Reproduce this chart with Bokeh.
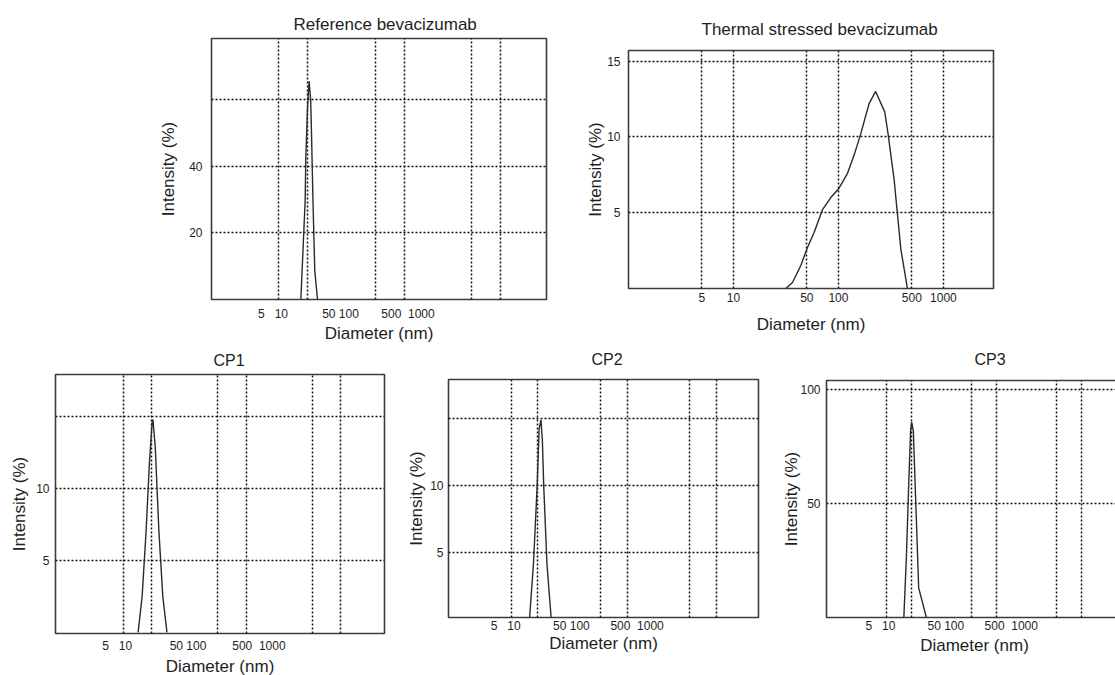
import math
from bokeh.plotting import figure
from bokeh.models import Range1d, LogAxis, LogScale, FixedTicker, PrintfTickFormatter
from bokeh.layouts import row, column
from bokeh.embed import file_html
from bokeh.resources import INLINE

# ---------------- data ----------------
tick_values = [5, 10, 50, 100, 500, 1000]          # diameter tick labels (nm)
tick_pairs = [(5, 10), (50, 100), (500, 1000)]     # label groups printed under the small panels
pair_gaps = [3, 1, 2]                              # spaces between the two numbers of a group
grid_diam = [5, 10, 50, 100, 500, 1000]            # vertical grid lines (nm)

ref_diam = [8.46, 9.38, 9.53, 9.93, 10.3, 10.7, 10.9, 11.3, 11.8, 12.6]
ref_int = [0, 29.7, 43.0, 57.7, 65.5, 59.7, 50.7, 29.7, 8.7, 0]

th_diam = [31.5, 36.5, 43.7, 50.7, 58.6, 70.5, 84.6, 101, 122, 141, 163, 196, 226, 276, 297, 339, 393, 454]
th_int = [0, 0.4, 1.5, 2.7, 3.7, 5.2, 6.0, 6.6, 7.6, 8.8, 10.2, 12.2, 13.0, 11.65, 10.2, 7.2, 2.6, 0]

cp1_diam = [7.18, 7.92, 8.73, 9.46, 10.1, 10.3, 10.9, 11.9, 13.1, 14.5]
cp1_int = [0, 2.5, 7.1, 11.8, 14.6, 14.8, 12.9, 7.1, 2.5, 0]

cp2_diam = [8.03, 8.91, 9.8, 10.3, 10.8, 11.2, 11.6, 12.6, 14.1]
cp2_int = [0, 4.2, 10.0, 14.2, 14.9, 13.4, 10.0, 4.2, 0]

cp3_diam = [8.1, 8.67, 9.3, 9.73, 10.0, 10.47, 12.1, 14.9]
cp3_int = [0, 26, 61.5, 82, 85.7, 82, 13, 0]

ref_yticks, ref_ygrid = [20, 40], [20, 40, 60]
th_yticks, th_ygrid = [5, 10, 15], [5, 10, 15]
cp1_yticks, cp1_ygrid = [5, 10], [5, 10, 15]
cp2_yticks, cp2_ygrid = [5, 10], [5, 10, 15]
cp3_yticks, cp3_ygrid = [50, 100], [50, 100]

FONT = "Liberation Sans"
TXT = "#1e1e1e"
NBSP = "\u00a0"

group_pos = [math.sqrt(a * b) for a, b in tick_pairs]
group_text = {pos: f"{a}{NBSP * g}{b}" for pos, (a, b), g in zip(group_pos, tick_pairs, pair_gaps)}


def panel(title, diam, inten, xr, lab_xr, yr, yticks, ygrid, w, h, borders, margin,
          title_off, title_standoff, title_size, xl_stand, xa_stand, yl_stand, ya_stand,
          grouped=True):
    bl, br, bt, bb = borders
    p = figure(width=w, height=h, x_axis_type="log", x_axis_location=None,
               x_range=Range1d(*xr), y_range=Range1d(*yr),
               output_backend="svg", toolbar_location=None, margin=margin,
               min_border_left=bl, min_border_right=br, min_border_top=bt, min_border_bottom=bb)
    p.frame_align = False
    p.title.text = title
    p.title.align = "left"
    p.title.offset = title_off
    p.title.standoff = title_standoff
    p.title.text_font = FONT
    p.title.text_font_size = title_size
    p.title.text_font_style = "normal"
    p.title.text_color = TXT

    p.outline_line_color = "#3c3c3c"
    p.outline_line_width = 1.6
    p.background_fill_color = None
    p.border_fill_color = None

    # grids
    p.xgrid.ticker = FixedTicker(ticks=grid_diam)
    p.ygrid.ticker = FixedTicker(ticks=ygrid)
    for g in (p.xgrid, p.ygrid):
        g.grid_line_color = "#111111"
        g.grid_line_width = 1.5
        g.grid_line_dash = "2 2"

    # y axis
    ya = p.yaxis[0]
    ya.ticker = FixedTicker(ticks=yticks)
    ya.axis_label = "Intensity (%)"
    ya.axis_line_color = None
    ya.major_tick_line_color = None
    ya.minor_tick_line_color = None
    ya.major_tick_out = 0
    ya.major_label_standoff = yl_stand
    ya.axis_label_standoff = ya_stand
    ya.major_label_text_font = FONT
    ya.major_label_text_font_size = "12px"
    ya.major_label_text_color = TXT
    ya.axis_label_text_font = FONT
    ya.axis_label_text_font_size = "17px"
    ya.axis_label_text_font_style = "normal"
    ya.axis_label_text_color = TXT

    # x axis with its own label positions
    p.extra_x_ranges = {"lab": Range1d(*lab_xr)}
    p.extra_x_scales = {"lab": LogScale()}
    if grouped:
        xa = LogAxis(x_range_name="lab", ticker=FixedTicker(ticks=group_pos),
                     major_label_overrides=group_text, axis_label="Diameter (nm)")
    else:
        xa = LogAxis(x_range_name="lab", ticker=FixedTicker(ticks=tick_values),
                     formatter=PrintfTickFormatter(format="%d"), axis_label="Diameter (nm)")
    xa.axis_line_color = None
    xa.major_tick_line_color = None
    xa.minor_tick_line_color = None
    xa.major_tick_out = 0
    xa.major_label_standoff = xl_stand
    xa.axis_label_standoff = xa_stand
    xa.major_label_text_font = FONT
    xa.major_label_text_font_size = "12px"
    xa.major_label_text_color = TXT
    xa.axis_label_text_font = FONT
    xa.axis_label_text_font_size = "17px"
    xa.axis_label_text_font_style = "normal"
    xa.axis_label_text_color = TXT
    p.add_layout(xa, "below")

    p.line(diam, inten, line_color="#2a2a2a", line_width=1.4)
    return p


p_ref = panel("Reference bevacizumab", ref_diam, ref_int, (1.0, 3000), (0.867, 79600),
              (0, 78.3), ref_yticks, ref_ygrid, 590, 370, (211, 44, 38, 71), (0, 0, 0, 0),
              82, 10, "17px", 7, 0, 9, 8)
p_th = panel("Thermal stressed bevacizumab", th_diam, th_int, (1.0, 3000), (1.0, 3000),
             (0.0, 15.7), th_yticks, th_ygrid, 547, 370, (60, 122, 50, 82), (0, 0, 0, -22),
             73, 23, "17px", 4, 10, 8, -1, grouped=False)
p_cp1 = panel("CP1", cp1_diam, cp1_int, (0.96, 2900), (0.952, 41900),
              (-0.08, 17.93), cp1_yticks, cp1_ygrid, 420, 350, (55, 36, 44, 47), (0, 0, 0, 0),
              158, 12, "16px", 5, 1, 6, 4)
p_cp2 = panel("CP2", cp2_diam, cp2_int, (1.0, 2920), (0.952, 49800),
              (0.19, 17.9), cp2_yticks, cp2_ygrid, 398, 350, (58, 30, 49, 63), (0, 0, 0, -30),
              143, 23, "16px", 1, -2, 5, 1)
p_cp3 = panel("CP3", cp3_diam, cp3_int, (1.0, 3000), (1.058, 35500),
              (0, 104), cp3_yticks, cp3_ygrid, 352, 350, (56, 0, 50, 63), (0, 0, 0, -18),
              148, 25, "16px", 1, 0, 6, -4)

top = row(p_ref, p_th)
bottom = row(p_cp1, p_cp2, p_cp3, margin=(-40, 0, 0, 0))
layout = column(top, bottom, width=1115, height=675, styles={"overflow": "hidden"})

open("out.html", "w").write(file_html(layout, INLINE))
